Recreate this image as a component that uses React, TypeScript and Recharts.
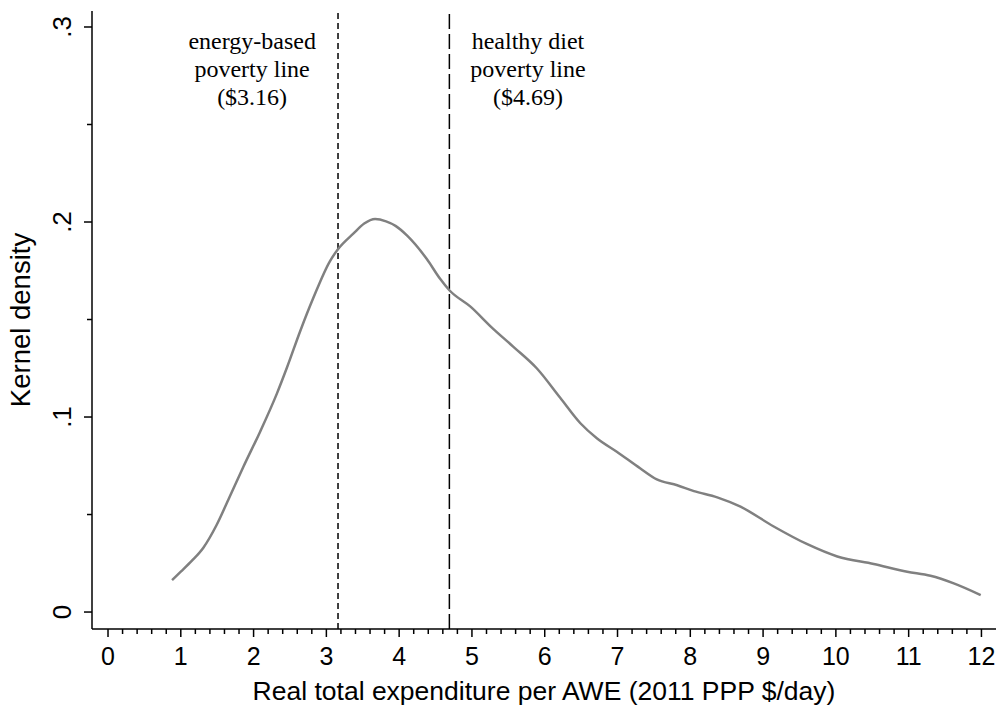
import { LineChart, Line, XAxis, YAxis, ReferenceLine } from "recharts";

// values
const expenditure = [
  0.88, 1.0, 1.15, 1.31, 1.49, 1.67, 1.86, 2.09, 2.32, 2.46, 2.64, 2.82, 3.05, 3.17,
  3.37, 3.52, 3.67, 3.82, 3.95, 4.11, 4.38, 4.56, 4.69, 4.98, 5.27, 5.57, 5.89, 6.21,
  6.49, 6.72, 6.99, 7.31, 7.54, 7.82, 8.05, 8.37, 8.69, 9.14, 9.6, 10.02, 10.52, 10.98,
  11.3, 11.62, 11.99,
];
const density = [
  0.0164, 0.0207, 0.0262, 0.033, 0.0445, 0.059, 0.0745, 0.0925, 0.112, 0.1255, 0.144,
  0.161, 0.18, 0.1865, 0.194, 0.1992, 0.2015, 0.2003, 0.198, 0.193, 0.181, 0.171, 0.165,
  0.1566, 0.146, 0.136, 0.125, 0.11, 0.0968, 0.089, 0.0822, 0.0737, 0.068, 0.065,
  0.062, 0.0588, 0.054, 0.044, 0.0349, 0.0285, 0.0246, 0.0207, 0.0186, 0.0147, 0.0087,
];

const xMajorTicks = [0, 1, 2, 3, 4, 5, 6, 7, 8, 9, 10, 11, 12];
const yMajorTicks = [0, 0.1, 0.2, 0.3];
const yTickLabels = ["0", ".1", ".2", ".3"];

const povertyLines = [
  { x: 3.16, dash: "6 4" },
  { x: 4.69, dash: "15 5" },
];
const annotations = [
  { x: 1.98, lines: ["energy-based", "poverty line", "($3.16)"] },
  { x: 5.77, lines: ["healthy diet", "poverty line", "($4.69)"] },
];

const data = expenditure.map((x, i) => ({ x, y: density[i] }));

const xTicks: number[] = [];
xMajorTicks.forEach((t, i) => {
  xTicks.push(t);
  if (i < xMajorTicks.length - 1) for (let k = 1; k < 5; k++) xTicks.push(+(t + k * 0.2).toFixed(1));
});
const yTicks: number[] = [];
yMajorTicks.forEach((t, i) => {
  yTicks.push(t);
  if (i < yMajorTicks.length - 1) yTicks.push(+(t + 0.05).toFixed(2));
});

const SANS = "'Liberation Sans', Arial, Helvetica, sans-serif";
const SERIF = "'Liberation Serif', 'Times New Roman', serif";

function XTick({ x, y, payload }: any) {
  const v = payload.value;
  const major = Math.abs(v - Math.round(v)) < 1e-6;
  return (
    <g>
      <line x1={x} x2={x} y1={y} y2={y + (major ? 8 : 5)} stroke="#000" strokeWidth={1.5} />
      {major && (
        <text x={x} y={y + 36} textAnchor="middle" fontFamily={SANS} fontSize={25} fill="#000">
          {v}
        </text>
      )}
    </g>
  );
}

function YTick({ x, y, payload }: any) {
  const v = payload.value;
  const idx = yMajorTicks.findIndex((t) => Math.abs(t - v) < 1e-6);
  const major = idx >= 0;
  const lx = x - 21;
  return (
    <g>
      <line x1={x} x2={x - (major ? 8 : 5)} y1={y} y2={y} stroke="#000" strokeWidth={1.5} />
      {major && (
        <text
          x={lx}
          y={y}
          transform={`rotate(-90, ${lx}, ${y})`}
          textAnchor="middle"
          fontFamily={SANS}
          fontSize={26}
          fill="#000"
        >
          {yTickLabels[idx]}
        </text>
      )}
    </g>
  );
}

export default function App() {
  return (
    <div style={{ position: "absolute", left: 0, top: 0, background: "#fff" }}>
      <LineChart width={997} height={710} data={data} margin={{ top: 11, right: 1, bottom: 0, left: 0 }}>
        <XAxis
          dataKey="x"
          type="number"
          domain={[-0.22, 12.2]}
          ticks={xTicks}
          interval={0}
          tickSize={0}
          tickMargin={0}
          tickLine={false}
          tick={(p: any) => <XTick {...p} />}
          axisLine={{ stroke: "#000", strokeWidth: 1.5 }}
          height={81}
          label={{
            value: "Real total expenditure per AWE (2011 PPP $/day)",
            position: "insideBottom",
            offset: 10,
            fontFamily: SANS,
            fontSize: 26.5,
            fill: "#000",
          }}
        />
        <YAxis
          type="number"
          domain={[-0.0087, 0.3082]}
          ticks={yTicks}
          interval={0}
          tickSize={0}
          tickMargin={0}
          tickLine={false}
          tick={(p: any) => <YTick {...p} />}
          axisLine={{ stroke: "#000", strokeWidth: 1.5 }}
          width={92}
          label={{
            value: "Kernel density",
            angle: -90,
            position: "insideLeft",
            offset: 20,
            style: { textAnchor: "middle" },
            fontFamily: SANS,
            fontSize: 27.5,
            fill: "#000",
          }}
        />
        {povertyLines.map((p) => (
          <ReferenceLine key={p.x} x={p.x} stroke="#000" strokeWidth={1.5} strokeDasharray={p.dash} />
        ))}
        {annotations.map((a) => (
          <ReferenceLine
            key={a.x}
            x={a.x}
            stroke="none"
            label={(props: any) => {
              const vb = props.viewBox || {};
              return (
                <g>
                  {a.lines.map((t, i) => (
                    <text
                      key={i}
                      x={vb.x}
                      y={vb.y + 38 + i * 28}
                      textAnchor="middle"
                      fontFamily={SERIF}
                      fontSize={24}
                      fill="#000"
                    >
                      {t}
                    </text>
                  ))}
                </g>
              );
            }}
          />
        ))}
        <Line
          type="monotone"
          dataKey="y"
          stroke="#808080"
          strokeWidth={2.5}
          dot={false}
          isAnimationActive={false}
        />
      </LineChart>
    </div>
  );
}
